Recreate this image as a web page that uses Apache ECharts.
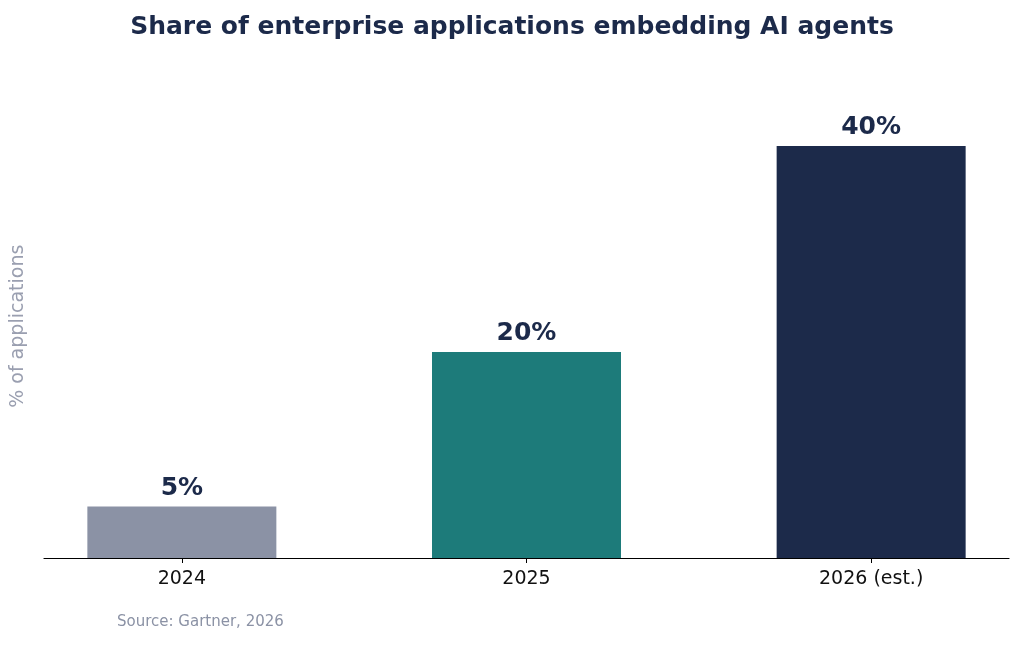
<!DOCTYPE html>
<html><head><meta charset="utf-8">
<script src="https://cdn.jsdelivr.net/npm/echarts@6/dist/echarts.min.js"></script>
<style>html,body{margin:0;padding:0;background:#fff}#c{width:1024px;height:646px}</style>
</head><body><div id="c"></div>
<script>
const categories = ['2024', '2025', '2026 (est.)'];
const values = [5, 20, 40];
const colors = ['#8b92a5', '#1d7b7a', '#1c2a4a'];
const chart = echarts.init(document.getElementById('c'));
const F = 'DejaVu Sans';
chart.setOption({
  animation: false,
  textStyle: {fontFamily: F},
  title: {text: 'Share of enterprise applications embedding AI agents', left: 'center', top: 10,
    textStyle: {fontFamily: F, fontSize: 25, fontWeight: 'bold', color: '#1c2a4a'}},
  graphic: [{type: 'text', left: 117, top: 615, style: {text: 'Source: Gartner, 2026', fill: '#8b92a5', font: '15px DejaVu Sans'}}],
  grid: {left: 44, right: 15, top: 94.5, bottom: 88},
  xAxis: {type: 'value', min: -0.4, max: 2.4, splitLine: {show: false},
    axisLine: {show: true, lineStyle: {color: '#000', width: 1.2}},
    axisTick: {show: true, customValues: [0, 1, 2], length: 5, lineStyle: {color: '#000'}},
    axisLabel: {customValues: [0, 1, 2], formatter: v => categories[Math.round(v)], fontSize: 19, color: '#111', margin: 12, fontFamily: F}},
  yAxis: {type: 'value', min: 0, max: 45, show: true, splitLine: {show: false}, axisLine: {show: false}, axisTick: {show: false}, axisLabel: {show: false},
    name: '% of applications', nameLocation: 'middle', nameGap: 16, nameTextStyle: {fontSize: 19, color: '#9a9fb0', fontFamily: F}},
  series: [{type: 'bar', barWidth: 189,
    data: values.map((v, i) => ({value: [i, v], itemStyle: {color: colors[i]}})),
    label: {show: true, position: 'top', distance: 6, formatter: p => p.value[1] + '%', fontSize: 25, fontWeight: 'bold', color: '#1c2a4a', fontFamily: F}}]
});
</script></body></html>
